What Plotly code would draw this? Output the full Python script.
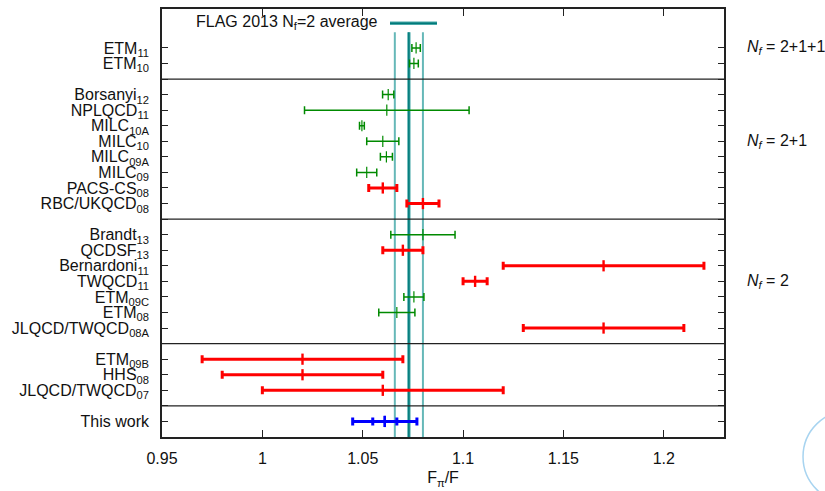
import plotly.graph_objects as go

# ---- data ----
names = ["This work", "JLQCD/TWQCD<sub>07</sub>", "HHS<sub>08</sub>", "ETM<sub>09B</sub>",
         "JLQCD/TWQCD<sub>08A</sub>", "ETM<sub>08</sub>", "ETM<sub>09C</sub>", "TWQCD<sub>11</sub>",
         "Bernardoni<sub>11</sub>", "QCDSF<sub>13</sub>", "Brandt<sub>13</sub>",
         "RBC/UKQCD<sub>08</sub>", "PACS-CS<sub>08</sub>", "MILC<sub>09</sub>", "MILC<sub>09A</sub>",
         "MILC<sub>10</sub>", "MILC<sub>10A</sub>", "NPLQCD<sub>11</sub>", "Borsanyi<sub>12</sub>",
         "ETM<sub>10</sub>", "ETM<sub>11</sub>"]
ypos = [1, 3, 4, 5, 7, 8, 9, 10, 11, 12, 13, 15, 16, 17, 18, 19, 20, 21, 22, 24, 25]
values = [1.061, 1.060, 1.020, 1.020, 1.170, 1.067, 1.0755, 1.106, 1.170, 1.070, 1.080,
          1.080, 1.060, 1.052, 1.0618, 1.060, 1.0496, 1.062, 1.0627, 1.0755, 1.0766]
errors = [0.016, 0.060, 0.040, 0.050, 0.040, 0.009, 0.005, 0.006, 0.050, 0.010, 0.016,
          0.008, 0.007, 0.005, 0.003, 0.008, 0.0012, 0.041, 0.0028, 0.0022, 0.0021]
groups = ["blue", "red", "red", "red", "red", "green", "green", "red", "red", "red", "green",
          "red", "red", "green", "green", "green", "green", "green", "green", "green", "green"]
stat_value = 1.061
stat_error = 0.006

flag_avg = 1.073
flag_err = 0.007
separators = [2, 6, 14, 23]
nf_labels = ["<i>N<sub>f</sub></i> = 2+1+1", "<i>N<sub>f</sub></i> = 2+1", "<i>N<sub>f</sub></i> = 2"]
nf_pos = [25, 19, 10]
xticks = [0.95, 1.0, 1.05, 1.1, 1.15, 1.2]
xticktext = ["0.95", "1", "1.05", "1.1", "1.15", "1.2"]

colors = {"green": "#008a00", "red": "#ff0000", "blue": "#0000ff"}
widths = {"green": 1.5, "red": 3, "blue": 3}

FONT = "Liberation Sans, Arial, Helvetica, sans-serif"
fig = go.Figure()

# FLAG band lines
for xv, col, w in [(flag_avg - flag_err, "#66b8b8", 2), (flag_avg + flag_err, "#66b8b8", 2),
                   (flag_avg, "#66b8b8", 3.5), (flag_avg, "#007a7a", 1.6)]:
    fig.add_shape(type="line", xref="x", yref="y", x0=xv, x1=xv, y0=0, y1=26,
                  line=dict(color=col, width=w), layer="below")

# separators
for s in separators:
    fig.add_shape(type="line", xref="paper", yref="y", x0=0, x1=1, y0=s, y1=s,
                  line=dict(color="#222222", width=1.3))

for g in ["green", "red", "blue"]:
    idx = [i for i, gg in enumerate(groups) if gg == g]
    fig.add_trace(go.Scatter(
        x=[values[i] for i in idx], y=[ypos[i] for i in idx], mode="markers",
        error_x=dict(type="data", array=[errors[i] for i in idx], visible=True,
                     color=colors[g], thickness=widths[g], width=4),
        marker=dict(symbol="line-ns", size=8, color=colors[g],
                    line=dict(color=colors[g], width=widths[g] * 0.8)),
        showlegend=False, hoverinfo="skip"))

# stat error of this work
fig.add_trace(go.Scatter(
    x=[stat_value], y=[1], mode="markers",
    error_x=dict(type="data", array=[stat_error], visible=True,
                 color=colors["blue"], thickness=3, width=4),
    marker=dict(symbol="line-ns", size=8, color=colors["blue"],
                line=dict(color=colors["blue"], width=2.4)),
    showlegend=False, hoverinfo="skip"))

# y ticks
all_ticks = list(range(1, 26))
tick_text = []
for t in all_ticks:
    tick_text.append(names[ypos.index(t)] if t in ypos else "")

# legend (key)
fig.add_annotation(xref="paper", yref="paper", x=0.388, y=0.968, xanchor="right", yanchor="middle",
                   text="FLAG 2013 N<sub>f</sub>=2 average", showarrow=False,
                   font=dict(family=FONT, size=16, color="#111"))
fig.add_shape(type="line", xref="paper", yref="paper", x0=0.4057, x1=0.4893, y0=0.9665, y1=0.9665,
              line=dict(color="#4aa8a8", width=3.5))
fig.add_shape(type="line", xref="paper", yref="paper", x0=0.4057, x1=0.4893, y0=0.9665, y1=0.9665,
              line=dict(color="#007a7a", width=1.5))

for t, p in zip(nf_labels, nf_pos):
    fig.add_annotation(xref="paper", yref="y", x=1.037, y=p, xanchor="left", yanchor="middle",
                       text=t, showarrow=False, font=dict(family=FONT, size=16, color="#111"))

# faint logo arc in corner
fig.add_shape(type="circle", xref="paper", yref="paper", x0=1.1406, x1=1.308, y0=-0.1548, y1=0.0624,
              line=dict(color="#a8d4f0", width=1.5))

fig.update_layout(
    width=825, height=491, margin=dict(l=162, r=101, t=7, b=51),
    paper_bgcolor="white", plot_bgcolor="white",
    font=dict(family=FONT, size=16, color="#111"),
    xaxis=dict(range=[0.95, 1.23], tickvals=xticks, ticktext=xticktext, ticks="inside", ticklen=7,
               tickcolor="#222", showline=True, linecolor="#222", linewidth=1.5, mirror="ticks",
               showgrid=False, zeroline=False, ticklabelstandoff=6,
               title=dict(text="F<sub>π</sub>/F", standoff=6, font=dict(size=16))),
    yaxis=dict(range=[0, 27.5], tickmode="array", tickvals=all_ticks, ticktext=tick_text,
               ticks="inside", ticklen=6, tickcolor="#222", showline=True, linecolor="#222",
               linewidth=1.5, mirror="ticks", showgrid=False, zeroline=False,
               ticklabelstandoff=8),
)

fig.write_html("out.html")
